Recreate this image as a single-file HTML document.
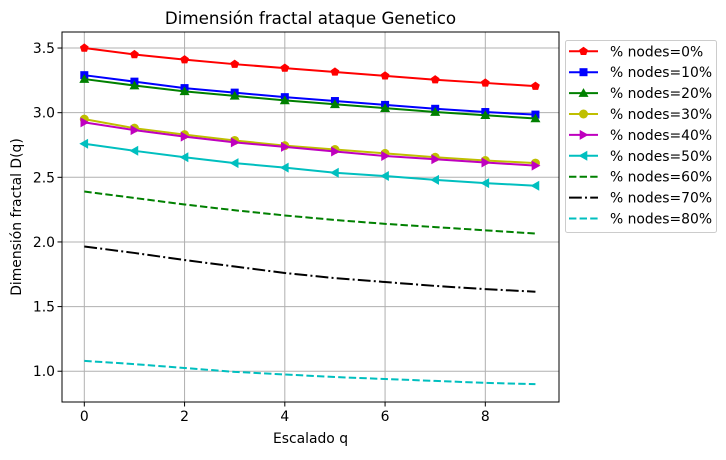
<!DOCTYPE html>
<html><head><meta charset="utf-8"><style>
body{margin:0;background:#fff;font-family:"Liberation Sans","DejaVu Sans",sans-serif}
svg text{font-family:"DejaVu Sans","Liberation Sans",sans-serif}
</style></head><body>
<svg id="c" width="726" height="455" viewBox="0 0 726 455" xmlns="http://www.w3.org/2000/svg"></svg>
<script>
const qValues=[0,1,2,3,4,5,6,7,8,9];
const s0=[3.50,3.45,3.41,3.375,3.345,3.315,3.285,3.255,3.23,3.205];
const s10=[3.29,3.24,3.19,3.155,3.12,3.09,3.06,3.03,3.005,2.985];
const s20=[3.26,3.21,3.165,3.13,3.095,3.065,3.035,3.005,2.98,2.955];
const s30=[2.95,2.88,2.83,2.785,2.745,2.715,2.685,2.655,2.63,2.61];
const s40=[2.925,2.865,2.815,2.77,2.735,2.70,2.665,2.64,2.615,2.59];
const s50=[2.76,2.705,2.655,2.61,2.575,2.535,2.51,2.48,2.455,2.435];
const s60=[2.39,2.34,2.29,2.245,2.205,2.17,2.14,2.115,2.09,2.065];
const s70=[1.965,1.915,1.86,1.81,1.76,1.72,1.69,1.66,1.635,1.615];
const s80=[1.08,1.055,1.025,0.995,0.975,0.955,0.94,0.925,0.91,0.90];
const seriesLabels=["% nodes=0%","% nodes=10%","% nodes=20%","% nodes=30%","% nodes=40%","% nodes=50%","% nodes=60%","% nodes=70%","% nodes=80%"];
const xTicks=[0,2,4,6,8];
const yTicks=[1.0,1.5,2.0,2.5,3.0,3.5];

const NS="http://www.w3.org/2000/svg";
const svg=document.getElementById('c');
const L=62,R=559,T=32,B=402;
const xMin=-0.445,xMax=9.47,yMin=0.762,yMax=3.624;
const X=v=>L+(v-xMin)/(xMax-xMin)*(R-L);
const Y=v=>B-(v-yMin)/(yMax-yMin)*(B-T);
function el(t,a,p){const e=document.createElementNS(NS,t);for(const k in a)e.setAttribute(k,a[k]);(p||svg).appendChild(e);return e;}

const styles=[
 {c:'#ff0000',m:'pent',d:''},{c:'#0000ff',m:'sq',d:''},{c:'#008000',m:'tri',d:''},
 {c:'#bfbf00',m:'circ',d:''},{c:'#bf00bf',m:'tr',d:''},{c:'#00bfbf',m:'tl',d:''},
 {c:'#008000',m:'',d:'7.4,3.2'},{c:'#000000',m:'',d:'12.8,3.2,2,3.2'},{c:'#00bfbf',m:'',d:'7.4,3.2'}];
const data=[s0,s10,s20,s30,s40,s50,s60,s70,s80];

const grid=el('g',{});


xTicks.forEach(t=>{el('line',{x1:X(t),x2:X(t),y1:T,y2:B,stroke:'#b0b0b0','stroke-width':1},grid);});
yTicks.forEach(t=>{el('line',{x1:L,x2:R,y1:Y(t),y2:Y(t),stroke:'#b0b0b0','stroke-width':1},grid);});

function marker(g,type,x,y,c){
 const r=4.6;
 if(type==='pent'){let p=[];for(let i=0;i<5;i++){const a=-Math.PI/2+i*2*Math.PI/5;p.push((x+r*Math.cos(a))+','+(y+r*Math.sin(a)));}el('polygon',{points:p.join(' '),fill:c},g);}
 else if(type==='sq')el('rect',{x:x-4,y:y-4,width:8,height:8,fill:c},g);
 else if(type==='tri')el('polygon',{points:`${x},${y-5} ${x-5},${y+3.8} ${x+5},${y+3.8}`,fill:c},g);
 else if(type==='circ')el('circle',{cx:x,cy:y,r:4.5,fill:c},g);
 else if(type==='tr')el('polygon',{points:`${x+5},${y} ${x-3.8},${y-5} ${x-3.8},${y+5}`,fill:c},g);
 else if(type==='tl')el('polygon',{points:`${x-5},${y} ${x+3.8},${y-5} ${x+3.8},${y+5}`,fill:c},g);
}

data.forEach((s,i)=>{
 const st=styles[i];
 const g=el('g',{});
 
 
 const a={points:s.map((v,j)=>X(qValues[j])+','+Y(v)).join(' '),fill:'none',stroke:st.c,'stroke-width':2};
 if(st.d)a['stroke-dasharray']=st.d;
 el('polyline',a,g);
 if(st.m)s.forEach((v,j)=>marker(g,st.m,X(qValues[j]),Y(v),st.c));
});

el('rect',{x:L,y:T,width:R-L,height:B-T,fill:'none',stroke:'#000','stroke-width':1});
xTicks.forEach(t=>{
 el('line',{x1:X(t),x2:X(t),y1:B,y2:B+4.5,stroke:'#000','stroke-width':1});
 const tx=el('text',{x:X(t),y:B+19,'font-size':13.9,'text-anchor':'middle'});tx.textContent=t;
 
 
});
yTicks.forEach(t=>{
 el('line',{x1:L-4.5,x2:L,y1:Y(t),y2:Y(t),stroke:'#000','stroke-width':1});
 const tx=el('text',{x:L-7,y:Y(t)+5,'font-size':13.9,'text-anchor':'end'});tx.textContent=t.toFixed(1);
 
 
});
const title=el('text',{x:(L+R)/2,y:24,'font-size':16.7,'text-anchor':'middle'});title.textContent='Dimensión fractal ataque Genetico';


const xl=el('text',{x:(L+R)/2,y:443,'font-size':13.9,'text-anchor':'middle'});xl.textContent='Escalado q';


const yl=el('text',{x:0,y:0,'font-size':13.9,'text-anchor':'middle',transform:`translate(21,${(T+B)/2}) rotate(-90)`});yl.textContent='Dimensión fractal D(q)';



const lg=el('g',{});


el('rect',{x:565.5,y:40.5,width:151,height:192,rx:2,fill:'#fff','fill-opacity':0.8,stroke:'#cccccc','stroke-width':1},lg);
seriesLabels.forEach((lab,i)=>{
 const st=styles[i];const y=51.3+i*20.9;
 const e=el('g',{},lg);
 
 
 const a={x1:569,x2:598,y1:y,y2:y,stroke:st.c,'stroke-width':2};
 if(st.d)a['stroke-dasharray']=st.d;
 el('line',a,e);
 if(st.m)marker(e,st.m,583.5,y,st.c);
 const t=el('text',{x:610,y:y+5,'font-size':13.9},e);t.textContent=lab;
});
</script>
</body></html>
